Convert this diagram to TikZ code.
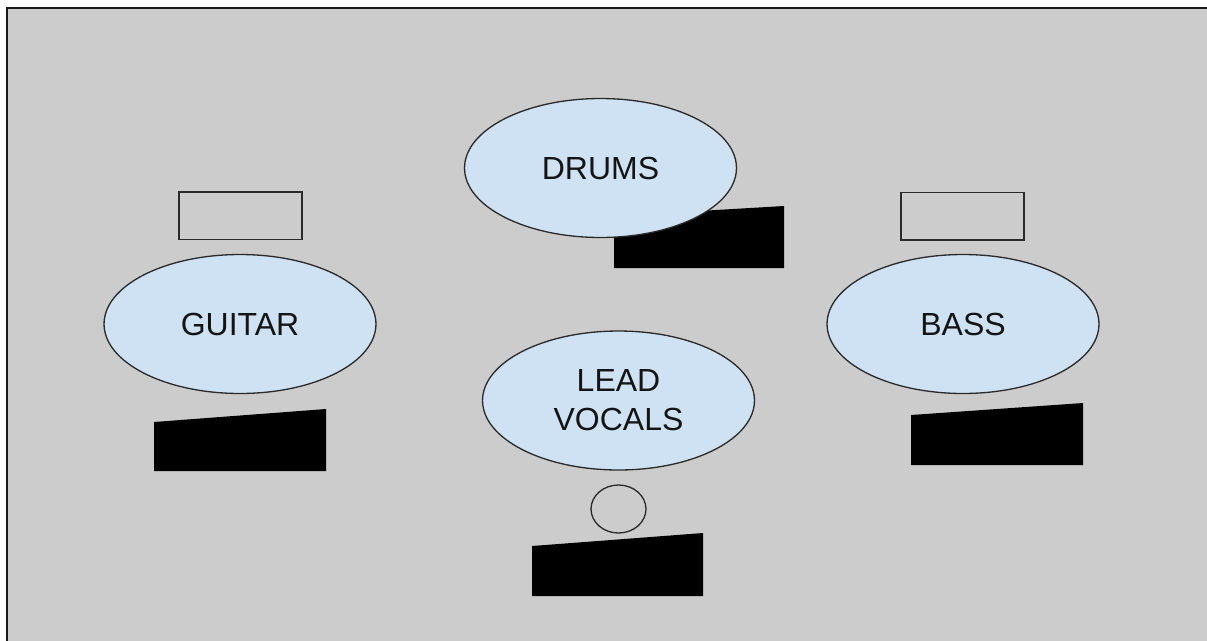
\documentclass[tikz,border=0pt]{standalone}
\usepackage{fontspec}
\setmainfont{Liberation Sans}
\usetikzlibrary{shapes.geometric}
\definecolor{stagegray}{HTML}{CCCCCC}
\definecolor{bandblue}{HTML}{CFE2F3}
\definecolor{inkgray}{HTML}{2A2A2A}

\begin{document}
\begin{tikzpicture}[x=0.02cm, y=-0.02cm]
 \useasboundingbox (0,0) rectangle (1207,640);
 \fill[white] (0,0) rectangle (1207,640);
 \draw[fill=stagegray, draw=black!90, line width=1.1pt] (7,8) rectangle (1230,660);
 \begin{scope}[every path/.style={fill=black}]
   \fill (614,216) -- (784,206) -- (784,268) -- (614,268) -- cycle;
   \fill (154,422) -- (326,409) -- (326,471) -- (154,471) -- cycle;
   \fill (532,546) -- (703,533) -- (703,596) -- (532,596) -- cycle;
   \fill (911,415) -- (1083,403) -- (1083,465) -- (911,465) -- cycle;
 \end{scope}
 \begin{scope}[every node/.style={ellipse, draw=inkgray, fill=bandblue, line width=0.75pt, minimum width=5.44cm, minimum height=2.78cm, inner sep=0pt, align=center, text=black!92, font=\fontsize{18.2}{22.2}\selectfont}]
   \node (drums) at (600.5,168) {DRUMS};
   \node (guitar) at (240,324) {GUITAR};
   \node (vocals) at (618.5,400.5) {LEAD\\VOCALS};
   \node (bass) at (963,324) {BASS};
 \end{scope}
 \begin{scope}[every node/.style={rectangle, draw=inkgray, line width=0.85pt, minimum width=2.46cm, minimum height=0.95cm, inner sep=0pt}]
   \node (guitaramp) at (240.5,215.5) {};
   \node (bassamp) at (962.5,216) {};
 \end{scope}
 \node (mic) [ellipse, draw=inkgray, line width=0.75pt, minimum width=1.1cm, minimum height=0.96cm, inner sep=0pt] at (618.5,509) {};
\end{tikzpicture}
\end{document}
